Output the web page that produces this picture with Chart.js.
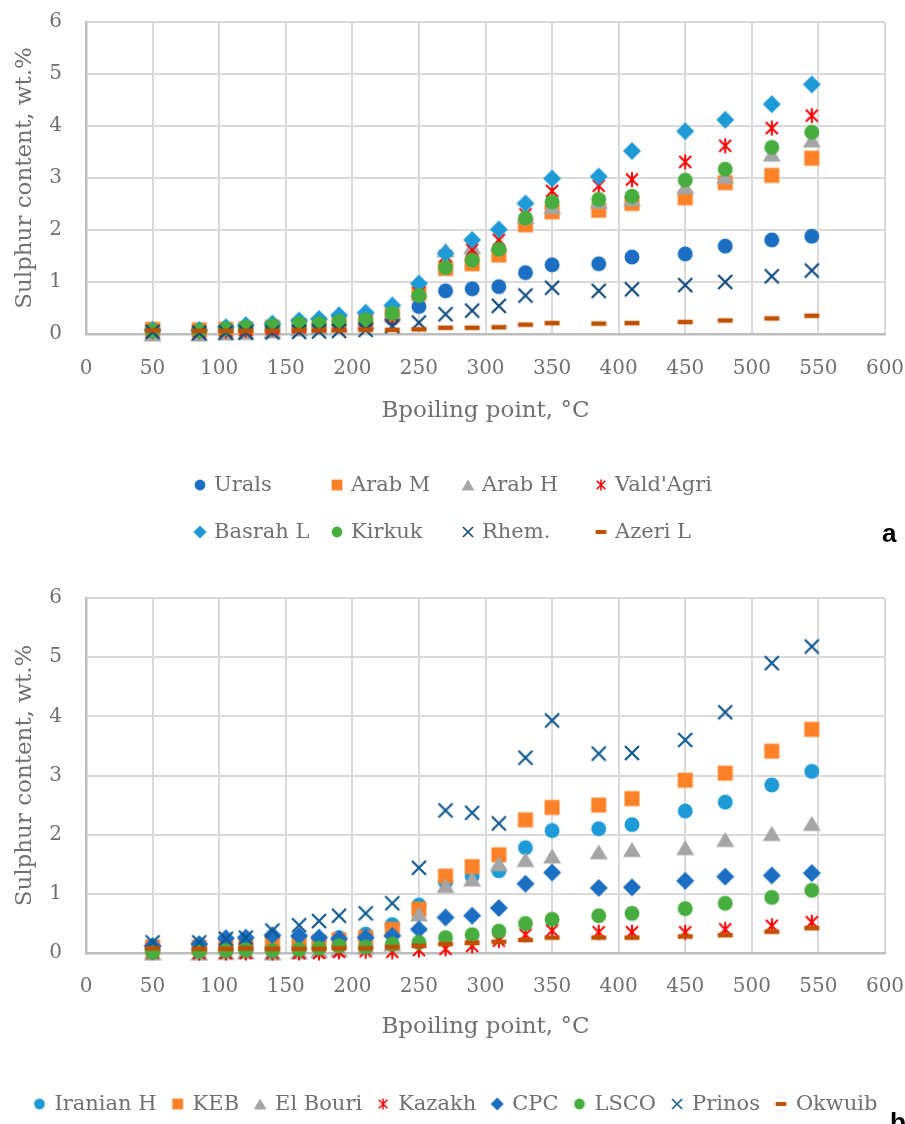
<!DOCTYPE html>
<html>
<head>
<meta charset="utf-8">
<script src="https://cdn.jsdelivr.net/npm/chart.js@4.4.1/dist/chart.umd.min.js"></script>
<style>
  html, body { margin: 0; padding: 0; background: #ffffff; }
  #wrap { position: relative; width: 905px; height: 1124px; overflow: hidden; }
  .box { position: absolute; left: 0; width: 905px; }
  #boxA { top: 0; height: 560px; }
  #boxB { top: 560px; height: 564px; }
</style>
</head>
<body>
<div id="wrap">
  <div class="box" id="boxA"><canvas id="chartA"></canvas></div>
  <div class="box" id="boxB"><canvas id="chartB"></canvas></div>
</div>
<script>
// Boiling point of each fraction, °C
const boilingPoints = [50, 85, 105, 120, 140, 160, 175, 190, 210, 230, 250, 270, 290, 310, 330, 350, 385, 410, 450, 480, 515, 545];

// Panel a: sulphur content, wt.%
const urals    = [0.05, 0.04, 0.06, 0.08, 0.10, 0.12, 0.14, 0.16, 0.20, 0.30, 0.53, 0.83, 0.87, 0.91, 1.18, 1.33, 1.35, 1.48, 1.54, 1.69, 1.81, 1.88];
const arabM    = [0.09, 0.08, 0.09, 0.10, 0.13, 0.16, 0.18, 0.20, 0.24, 0.37, 0.78, 1.26, 1.35, 1.52, 2.10, 2.35, 2.38, 2.51, 2.62, 2.91, 3.05, 3.38];
const arabH    = [0.00, 0.00, 0.02, 0.03, 0.06, 0.10, 0.13, 0.18, 0.24, 0.40, 0.85, 1.62, 1.68, 1.74, 2.26, 2.45, 2.55, 2.60, 2.83, 3.03, 3.46, 3.73];
const valdAgri = [0.05, 0.05, 0.06, 0.08, 0.10, 0.13, 0.16, 0.20, 0.25, 0.35, 0.80, 1.50, 1.62, 1.81, 2.30, 2.75, 2.85, 2.97, 3.31, 3.62, 3.96, 4.20];
const basrahL  = [0.08, 0.08, 0.13, 0.17, 0.20, 0.26, 0.29, 0.36, 0.41, 0.55, 0.97, 1.55, 1.81, 2.01, 2.51, 2.99, 3.03, 3.52, 3.90, 4.12, 4.42, 4.80];
const kirkuk   = [0.06, 0.06, 0.10, 0.13, 0.16, 0.20, 0.20, 0.24, 0.27, 0.40, 0.74, 1.28, 1.42, 1.63, 2.23, 2.54, 2.59, 2.65, 2.96, 3.17, 3.59, 3.88];
const rhem     = [0.04, 0.02, 0.03, 0.03, 0.03, 0.04, 0.05, 0.06, 0.08, 0.15, 0.22, 0.38, 0.45, 0.54, 0.74, 0.89, 0.83, 0.86, 0.94, 1.00, 1.11, 1.22];
const azeriL   = [0.07, 0.06, 0.06, 0.06, 0.06, 0.07, 0.07, 0.07, 0.08, 0.08, 0.09, 0.12, 0.12, 0.13, 0.18, 0.21, 0.20, 0.21, 0.23, 0.26, 0.30, 0.35];

// Panel b: sulphur content, wt.%
const iranianH = [0.05, 0.04, 0.06, 0.08, 0.10, 0.14, 0.18, 0.26, 0.32, 0.48, 0.81, 1.20, 1.30, 1.39, 1.78, 2.07, 2.10, 2.17, 2.40, 2.55, 2.84, 3.07];
const keb      = [0.10, 0.10, 0.12, 0.13, 0.15, 0.17, 0.19, 0.22, 0.26, 0.40, 0.74, 1.30, 1.46, 1.66, 2.25, 2.46, 2.50, 2.61, 2.92, 3.04, 3.41, 3.78];
const elBouri  = [0.00, 0.00, 0.01, 0.02, 0.00, 0.02, 0.04, 0.06, 0.10, 0.15, 0.66, 1.14, 1.25, 1.51, 1.58, 1.64, 1.71, 1.75, 1.78, 1.92, 2.02, 2.19];
const kazakh   = [0.01, 0.00, 0.00, 0.00, 0.00, 0.00, 0.00, 0.02, 0.03, 0.02, 0.05, 0.07, 0.12, 0.21, 0.31, 0.38, 0.35, 0.35, 0.35, 0.40, 0.46, 0.52];
const cpc      = [0.12, 0.15, 0.25, 0.26, 0.30, 0.29, 0.26, 0.24, 0.26, 0.29, 0.40, 0.60, 0.63, 0.76, 1.17, 1.36, 1.10, 1.11, 1.22, 1.29, 1.31, 1.35];
const lsco     = [0.01, 0.03, 0.04, 0.05, 0.04, 0.06, 0.08, 0.12, 0.10, 0.15, 0.18, 0.26, 0.31, 0.37, 0.50, 0.57, 0.63, 0.67, 0.75, 0.84, 0.94, 1.06];
const prinos   = [0.18, 0.18, 0.24, 0.26, 0.38, 0.47, 0.54, 0.63, 0.67, 0.84, 1.44, 2.41, 2.37, 2.19, 3.30, 3.93, 3.37, 3.38, 3.60, 4.07, 4.90, 5.18];
const okwuib   = [0.08, 0.07, 0.07, 0.08, 0.07, 0.07, 0.07, 0.08, 0.08, 0.10, 0.12, 0.15, 0.17, 0.19, 0.22, 0.26, 0.26, 0.26, 0.28, 0.30, 0.36, 0.42];

const seriesA = [
  ['Urals', urals, 'circle', '#1b6ec2'],
  ['Arab M', arabM, 'square', '#fd8127'],
  ['Arab H', arabH, 'triangle', '#a5a5a5'],
  ["Vald'Agri", valdAgri, 'star', '#ff0000'],
  ['Basrah L', basrahL, 'diamond', '#1e9bd7'],
  ['Kirkuk', kirkuk, 'circle', '#47ad3e'],
  ['Rhem.', rhem, 'cross', '#0d4a7e'],
  ['Azeri L', azeriL, 'dash', '#c05000']
];
const seriesB = [
  ['Iranian H', iranianH, 'circle', '#1e9bd7'],
  ['KEB', keb, 'square', '#fd8127'],
  ['El Bouri', elBouri, 'triangle', '#a5a5a5'],
  ['Kazakh', kazakh, 'star', '#ff0000'],
  ['CPC', cpc, 'diamond', '#1b6ec2'],
  ['LSCO', lsco, 'circle', '#47ad3e'],
  ['Prinos', prinos, 'cross', '#0e5890'],
  ['Okwuib', okwuib, 'dash', '#c05000']
];

const TEXT = '#707070';
const SERIF = "'DejaVu Serif', serif";

// Marker glyphs rendered once into small canvases
function makeMarker(shape, color, s) {
  const size = 2 * Math.ceil(10 * s + 1);
  const c = document.createElement('canvas');
  c.width = size; c.height = size;
  const g = c.getContext('2d');
  const m = size / 2;
  g.fillStyle = color;
  g.strokeStyle = color;
  g.beginPath();
  if (shape === 'circle') {
    g.arc(m, m, 7.5 * s, 0, Math.PI * 2);
    g.fill();
  } else if (shape === 'square') {
    const h = 7.5 * s;
    g.fillRect(m - h, m - h, 2 * h, 2 * h);
  } else if (shape === 'triangle') {
    const b = 9 * s, h = 15 * s;
    g.moveTo(m, m - h / 2);
    g.lineTo(m + b, m + h / 2);
    g.lineTo(m - b, m + h / 2);
    g.closePath();
    g.fill();
  } else if (shape === 'diamond') {
    const d = 9 * s;
    g.moveTo(m, m - d); g.lineTo(m + d, m); g.lineTo(m, m + d); g.lineTo(m - d, m);
    g.closePath();
    g.fill();
  } else if (shape === 'cross') {
    const a = 7 * s;
    g.lineWidth = Math.max(1.6, 2.2 * s);
    g.moveTo(m - a, m - a); g.lineTo(m + a, m + a);
    g.moveTo(m + a, m - a); g.lineTo(m - a, m + a);
    g.stroke();
  } else if (shape === 'star') {
    const a = 6 * s, v = 7.5 * s;
    g.lineWidth = Math.max(1.5, 2 * s);
    g.moveTo(m - a, m - a); g.lineTo(m + a, m + a);
    g.moveTo(m + a, m - a); g.lineTo(m - a, m + a);
    g.moveTo(m, m - v); g.lineTo(m, m + v);
    g.stroke();
  } else if (shape === 'dash') {
    const w = 7.5 * s, h = 2.3 * Math.max(s, 0.85);
    g.fillRect(m - w, m - h, 2 * w, 2 * h);
  }
  return c;
}

function buildDatasets(series) {
  return series.map(([label, values, shape, color], i) => ({
    label,
    data: boilingPoints.map((x, k) => ({ x, y: values[k] })),
    pointStyle: makeMarker(shape, color, 1),
    legendMarker: makeMarker(shape, color, 0.72),
    pointRadius: 8,
    showLine: false,
    clip: false,
    order: series.length - i   // later series sit on top
  }));
}

// Fixed axis box sizes; label overflow is already covered by the layout padding
function fixBox(size, key) {
  return function (scale) {
    scale[key] = size;
    scale.paddingLeft = scale.paddingRight = scale.paddingTop = scale.paddingBottom = 0;
  };
}

function makeScales(tickPad, xHeight) {
  return {
    x: {
      type: 'linear', min: 0, max: 600,
      ticks: { stepSize: 50, color: TEXT, font: { family: SERIF, size: 20 }, padding: tickPad, maxRotation: 0 },
      grid: { color: '#dadada', lineWidth: 2, drawTicks: false },
      border: { color: '#bebebe', width: 2.5 },
      title: { display: true, text: 'Bpoiling point, °C', color: TEXT, font: { family: SERIF, size: 23 }, padding: { top: 0, bottom: 0 } },
      afterFit: fixBox(xHeight, 'height')
    },
    y: {
      type: 'linear', min: 0, max: 6,
      ticks: { stepSize: 1, color: TEXT, font: { family: SERIF, size: 20 }, padding: 24 },
      grid: { color: '#dadada', lineWidth: 2, drawTicks: false },
      border: { color: '#bebebe', width: 2.5 },
      title: { display: true, text: 'Sulphur content, wt.%', color: TEXT, font: { family: SERIF, size: 23 }, padding: { top: 11, bottom: 0 } },
      afterFit: fixBox(86, 'width')
    }
  };
}

// Legend in a fixed grid of columns (panel a)
const gridLegend = {
  id: 'gridLegend',
  afterDraw(chart, args, opts) {
    if (!opts.columns) return;
    const ctx = chart.ctx;
    ctx.save();
    ctx.font = "21px " + SERIF;
    ctx.fillStyle = TEXT;
    ctx.textBaseline = 'middle';
    ctx.textAlign = 'left';
    chart.data.datasets.forEach((ds, i) => {
      const cx = opts.columns[i % opts.columns.length];
      const cy = opts.rows[Math.floor(i / opts.columns.length)];
      const mk = ds.legendMarker;
      ctx.drawImage(mk, cx - mk.width / 2, cy - mk.height / 2);
      ctx.fillText(ds.label, cx + 14, cy + 1);
    });
    ctx.restore();
  }
};

// Legend flowing along one centred row (panel b)
const rowLegend = {
  id: 'rowLegend',
  afterDraw(chart, args, opts) {
    if (!opts.center) return;
    const ctx = chart.ctx;
    ctx.save();
    ctx.font = "21px " + SERIF;
    ctx.fillStyle = TEXT;
    ctx.textBaseline = 'middle';
    ctx.textAlign = 'left';
    const items = chart.data.datasets.map(ds => ({ ds, w: 22 + ctx.measureText(ds.label).width }));
    const total = items.reduce((a, it) => a + it.w, 0) + opts.gap * (items.length - 1);
    let x = opts.center - total / 2;
    items.forEach(({ ds, w }) => {
      const mk = ds.legendMarker;
      ctx.drawImage(mk, x + 7 - mk.width / 2, opts.y - mk.height / 2);
      ctx.fillText(ds.label, x + 22, opts.y + 1);
      x += w + opts.gap;
    });
    ctx.restore();
  }
};

// Panel letter
const panelLetter = {
  id: 'panelLetter',
  afterDraw(chart, args, opts) {
    if (!opts.text) return;
    const ctx = chart.ctx;
    ctx.save();
    ctx.font = "bold 26px 'Liberation Sans', sans-serif";
    ctx.fillStyle = '#000000';
    ctx.textBaseline = 'alphabetic';
    ctx.textAlign = 'left';
    ctx.fillText(opts.text, opts.x, opts.y);
    ctx.restore();
  }
};

function makeChart(id, series, padding, tickPad, xHeight, plugOpts) {
  return new Chart(document.getElementById(id), {
    type: 'scatter',
    data: { datasets: buildDatasets(series) },
    options: {
      responsive: true,
      maintainAspectRatio: false,
      animation: false,
      devicePixelRatio: 1,
      events: [],
      layout: { padding, autoPadding: false },
      scales: makeScales(tickPad, xHeight),
      plugins: Object.assign({ legend: { display: false }, tooltip: { enabled: false } }, plugOpts)
    },
    plugins: [gridLegend, rowLegend, panelLetter]
  });
}

makeChart('chartA', seriesA, { left: 0, right: 20, top: 22, bottom: 135 }, 23, 91, {
  gridLegend: { columns: [200, 337, 468, 601], rows: [485, 532] },
  rowLegend: {},
  panelLetter: { text: 'a', x: 882, y: 542 }
});

makeChart('chartB', seriesB, { left: 0, right: 20, top: 38, bottom: 83 }, 22, 88, {
  gridLegend: {},
  rowLegend: { center: 455, y: 544, gap: 14 },
  panelLetter: { text: 'b', x: 890, y: 571 }
});
</script>
</body>
</html>
